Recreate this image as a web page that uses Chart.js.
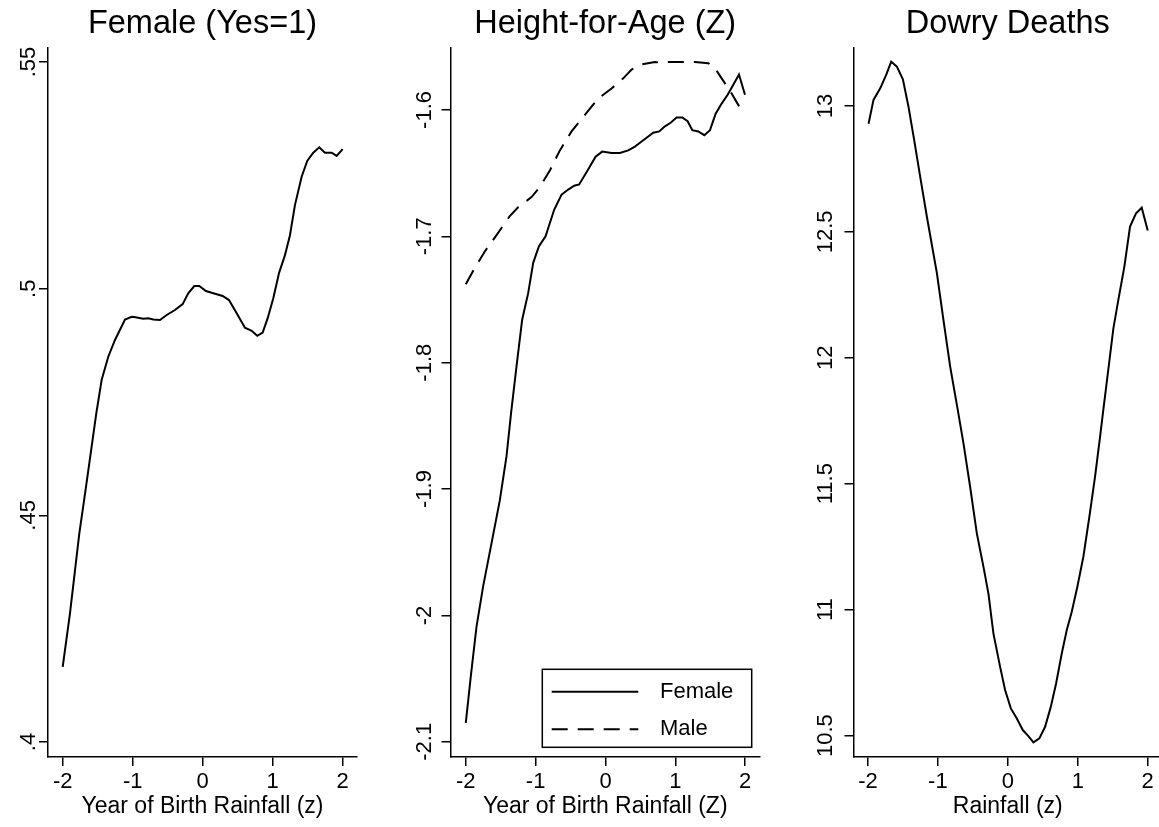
<!DOCTYPE html>
<html>
<head>
<meta charset="utf-8">
<script src="https://cdn.jsdelivr.net/npm/chart.js@4/dist/chart.umd.min.js"></script>
<style>
  html, body { margin: 0; padding: 0; background: #fff; overflow: hidden; }
  #wrap { position: relative; width: 1159px; height: 827px; overflow: hidden; background: #fff; }
  canvas { position: absolute; top: 0; }
</style>
</head>
<body>
<div id="wrap">
  <canvas id="c1" width="385" height="827" style="left:0px"></canvas>
  <canvas id="c2" width="385" height="827" style="left:385px"></canvas>
  <canvas id="c3" width="400" height="827" style="left:770px"></canvas>
</div>
<script>
// ---------- Data ----------
const xTicks = [-2, -1, 0, 1, 2];
const xTickLabels = ["-2", "-1", "0", "1", "2"];

// Panel 1: Female (Yes=1)
const femaleX = [-2.0, -1.896, -1.763, -1.667, -1.52, -1.443, -1.349, -1.253, -1.11, -1.014, -0.96, -0.849, -0.777, -0.706, -0.61, -0.514, -0.396, -0.286, -0.206, -0.12, -0.048, 0.047, 0.152, 0.286, 0.376, 0.486, 0.604, 0.7, 0.78, 0.857, 0.929, 1.009, 1.09, 1.176, 1.247, 1.319, 1.414, 1.494, 1.58, 1.666, 1.747, 1.843, 1.914, 2.0];
const femaleY = [0.4166, 0.4284, 0.446, 0.4563, 0.4725, 0.4799, 0.485, 0.4887, 0.4932, 0.4938, 0.4937, 0.4934, 0.4935, 0.4932, 0.4931, 0.4942, 0.4953, 0.4966, 0.499, 0.5006, 0.5006, 0.4995, 0.499, 0.4984, 0.4975, 0.4946, 0.4914, 0.4907, 0.4896, 0.4903, 0.4935, 0.4979, 0.5034, 0.5074, 0.5118, 0.5185, 0.5247, 0.5282, 0.53, 0.5312, 0.53, 0.53, 0.5293, 0.5308];
const yTicks1 = [0.4, 0.45, 0.5, 0.55];
const yTickLabels1 = [".4", ".45", ".5", ".55"];

// Panel 2: Height-for-Age (Z)
const hazFemaleX = [-2.0, -1.928, -1.847, -1.752, -1.632, -1.513, -1.417, -1.35, -1.274, -1.193, -1.107, -1.035, -0.954, -0.858, -0.735, -0.629, -0.534, -0.448, -0.377, -0.257, -0.142, -0.047, 0.087, 0.206, 0.325, 0.421, 0.517, 0.612, 0.683, 0.77, 0.851, 0.937, 1.018, 1.099, 1.176, 1.243, 1.328, 1.415, 1.496, 1.577, 1.663, 1.749, 1.83, 1.911, 1.997];
const hazFemaleY = [-2.085, -2.048, -2.009, -1.977, -1.943, -1.909, -1.874, -1.839, -1.803, -1.766, -1.745, -1.721, -1.708, -1.700, -1.679, -1.667, -1.663, -1.660, -1.659, -1.648, -1.637, -1.633, -1.634, -1.634, -1.632, -1.629, -1.625, -1.621, -1.618, -1.617, -1.613, -1.610, -1.606, -1.606, -1.609, -1.616, -1.617, -1.620, -1.616, -1.603, -1.595, -1.588, -1.580, -1.572, -1.588];
const hazMaleX = [-2.0, -1.871, -1.728, -1.56, -1.37, -1.251, -1.059, -0.94, -0.797, -0.653, -0.486, -0.295, -0.105, 0.087, 0.254, 0.374, 0.517, 0.708, 0.827, 0.898, 1.042, 1.281, 1.472, 1.567, 1.663, 1.806, 1.901, 1.987];
const hazMaleY = [-1.738, -1.725, -1.712, -1.699, -1.684, -1.677, -1.669, -1.661, -1.648, -1.632, -1.617, -1.604, -1.591, -1.583, -1.575, -1.568, -1.564, -1.562, -1.563, -1.562, -1.562, -1.562, -1.563, -1.567, -1.575, -1.587, -1.596, -1.604];
const yTicks2 = [-2.1, -2.0, -1.9, -1.8, -1.7, -1.6];
const yTickLabels2 = ["-2.1", "-2", "-1.9", "-1.8", "-1.7", "-1.6"];

// Panel 3: Dowry Deaths
const dowryX = [-1.991, -1.92, -1.824, -1.739, -1.667, -1.586, -1.5, -1.42, -1.339, -1.253, -1.157, -1.014, -0.92, -0.824, -0.72, -0.634, -0.539, -0.443, -0.348, -0.277, -0.206, -0.11, -0.039, 0.043, 0.129, 0.214, 0.294, 0.366, 0.451, 0.533, 0.614, 0.69, 0.771, 0.843, 0.914, 0.994, 1.08, 1.166, 1.247, 1.319, 1.366, 1.414, 1.509, 1.58, 1.666, 1.747, 1.833, 1.914, 2.0];
const dowryY = [12.929, 13.024, 13.070, 13.123, 13.176, 13.156, 13.106, 12.997, 12.865, 12.719, 12.56, 12.336, 12.15, 11.965, 11.80, 11.66, 11.488, 11.303, 11.17, 11.064, 10.906, 10.773, 10.681, 10.608, 10.568, 10.522, 10.498, 10.473, 10.489, 10.535, 10.614, 10.707, 10.826, 10.919, 10.992, 11.091, 11.21, 11.369, 11.528, 11.687, 11.795, 11.902, 12.117, 12.23, 12.362, 12.521, 12.574, 12.596, 12.505];
const yTicks3 = [10.5, 11, 11.5, 12, 12.5, 13];
const yTickLabels3 = ["10.5", "11", "11.5", "12", "12.5", "13"];

// ---------- Helpers ----------
const FONT = "'Liberation Sans', Arial, Helvetica, sans-serif";
Chart.defaults.font.family = FONT;
Chart.defaults.color = '#000';

function pts(xs, ys) { return xs.map((x, i) => ({ x: x, y: ys[i] })); }

function makeChart(id, cfg) {
  const yTickVals = cfg.yTicks, yLabs = cfg.yLabels;
  return new Chart(document.getElementById(id), {
    type: 'line',
    data: { datasets: cfg.datasets },
    options: {
      responsive: false,
      animation: false,
      devicePixelRatio: 1,
      layout: { padding: { left: 0, right: cfg.padRight, top: 0, bottom: 0 } },
      elements: { point: { radius: 0 }, line: { tension: 0, borderWidth: 2, borderColor: '#000', fill: false } },
      plugins: {
        legend: { display: false },
        tooltip: { enabled: false },
        title: {
          display: true, text: cfg.title, fullSize: false, color: '#000',
          font: { size: 32.5, family: FONT, weight: 'normal', lineHeight: 1 },
          padding: { top: 8, bottom: 7.5 }
        }
      },
      scales: {
        x: {
          type: 'linear', position: 'bottom', min: cfg.xMin, max: cfg.xMax,
          afterBuildTicks: s => { s.ticks = xTicks.map(v => ({ value: v })); },
          afterFit: s => { s.height = 70; },
          ticks: {
            autoSkip: false, maxRotation: 0, minRotation: 0, padding: 2.8,
            font: { size: 22, family: FONT }, color: '#000',
            callback: (v, i) => xTickLabels[i]
          },
          grid: { drawOnChartArea: false, drawTicks: true, tickLength: 9, color: '#000', lineWidth: 1.5 },
          border: { display: true, color: '#000', width: 1.5 },
          title: {
            display: true, text: cfg.xTitle, color: '#000',
            font: { size: 23, family: FONT }, padding: { top: 0, bottom: 6.6 }
          }
        },
        y: {
          type: 'linear', position: 'left', min: cfg.yMin, max: cfg.yMax,
          afterBuildTicks: s => { s.ticks = yTickVals.map(v => ({ value: v })); },
          afterFit: s => { s.width = cfg.yWidth; },
          ticks: {
            autoSkip: false, minRotation: 90, maxRotation: 90, crossAlign: 'center',
            padding: cfg.yPad, font: { size: 22, family: FONT }, color: '#000',
            callback: (v, i) => yLabs[i]
          },
          grid: { drawOnChartArea: false, drawTicks: true, tickLength: 9, color: '#000', lineWidth: 1.5 },
          border: { display: true, color: '#000', width: 1.5 }
        }
      }
    },
    plugins: cfg.plugins || []
  });
}

// Legend drawn inside chart area of panel 2
const insideLegend = {
  id: 'insideLegend',
  afterDatasetsDraw(chart) {
    const { ctx, chartArea } = chart;
    const w = 209.4, h = 78;
    const right = chartArea.right - 8.3, bottom = chartArea.bottom - 9.7;
    const left = right - w, top = bottom - h;
    ctx.save();
    ctx.fillStyle = '#fff';
    ctx.fillRect(left, top, w, h);
    ctx.strokeStyle = '#000';
    ctx.lineWidth = 1.5;
    ctx.strokeRect(left, top, w, h);
    const rowY = [top + 22.4, top + 60];
    chart.data.datasets.forEach((ds, i) => {
      ctx.beginPath();
      ctx.setLineDash(ds.borderDash || []);
      ctx.lineWidth = 2;
      ctx.moveTo(left + 9.4, rowY[i]);
      ctx.lineTo(left + 96, rowY[i]);
      ctx.stroke();
      ctx.setLineDash([]);
      ctx.fillStyle = '#000';
      ctx.font = "22px " + FONT;
      ctx.textBaseline = 'middle';
      ctx.textAlign = 'left';
      ctx.fillText(ds.label, left + 117.7, rowY[i]);
    });
    ctx.restore();
  }
};

makeChart('c1', {
  title: 'Female (Yes=1)', xTitle: 'Year of Birth Rainfall (z)',
  xMin: -2.21, xMax: 2.205, yMin: 0.3967, yMax: 0.5531,
  yTicks: yTicks1, yLabels: yTickLabels1, yWidth: 48, yPad: -4.8, padRight: 28,
  datasets: [{ label: 'Female', data: pts(femaleX, femaleY), borderColor: '#000', borderWidth: 2 }]
});

makeChart('c2', {
  title: 'Height-for-Age (Z)', xTitle: 'Year of Birth Rainfall (Z)',
  xMin: -2.219, xMax: 2.212, yMin: -2.112, yMax: -1.551,
  yTicks: yTicks2, yLabels: yTickLabels2, yWidth: 65.5, yPad: -2.15, padRight: 10,
  datasets: [
    { label: 'Female', data: pts(hazFemaleX, hazFemaleY), borderColor: '#000', borderWidth: 2 },
    { label: 'Male', data: pts(hazMaleX, hazMaleY), borderColor: '#000', borderWidth: 2, borderDash: [16, 10] }
  ],
  plugins: [insideLegend]
});

makeChart('c3', {
  title: 'Dowry Deaths', xTitle: 'Rainfall (z)',
  xMin: -2.206, xMax: 2.204, yMin: 10.415, yMax: 13.23,
  yTicks: yTicks3, yLabels: yTickLabels3, yWidth: 83.5, yPad: -2.6, padRight: 8,
  datasets: [{ label: 'Dowry Deaths', data: pts(dowryX, dowryY), borderColor: '#000', borderWidth: 2 }]
});
</script>
</body>
</html>
